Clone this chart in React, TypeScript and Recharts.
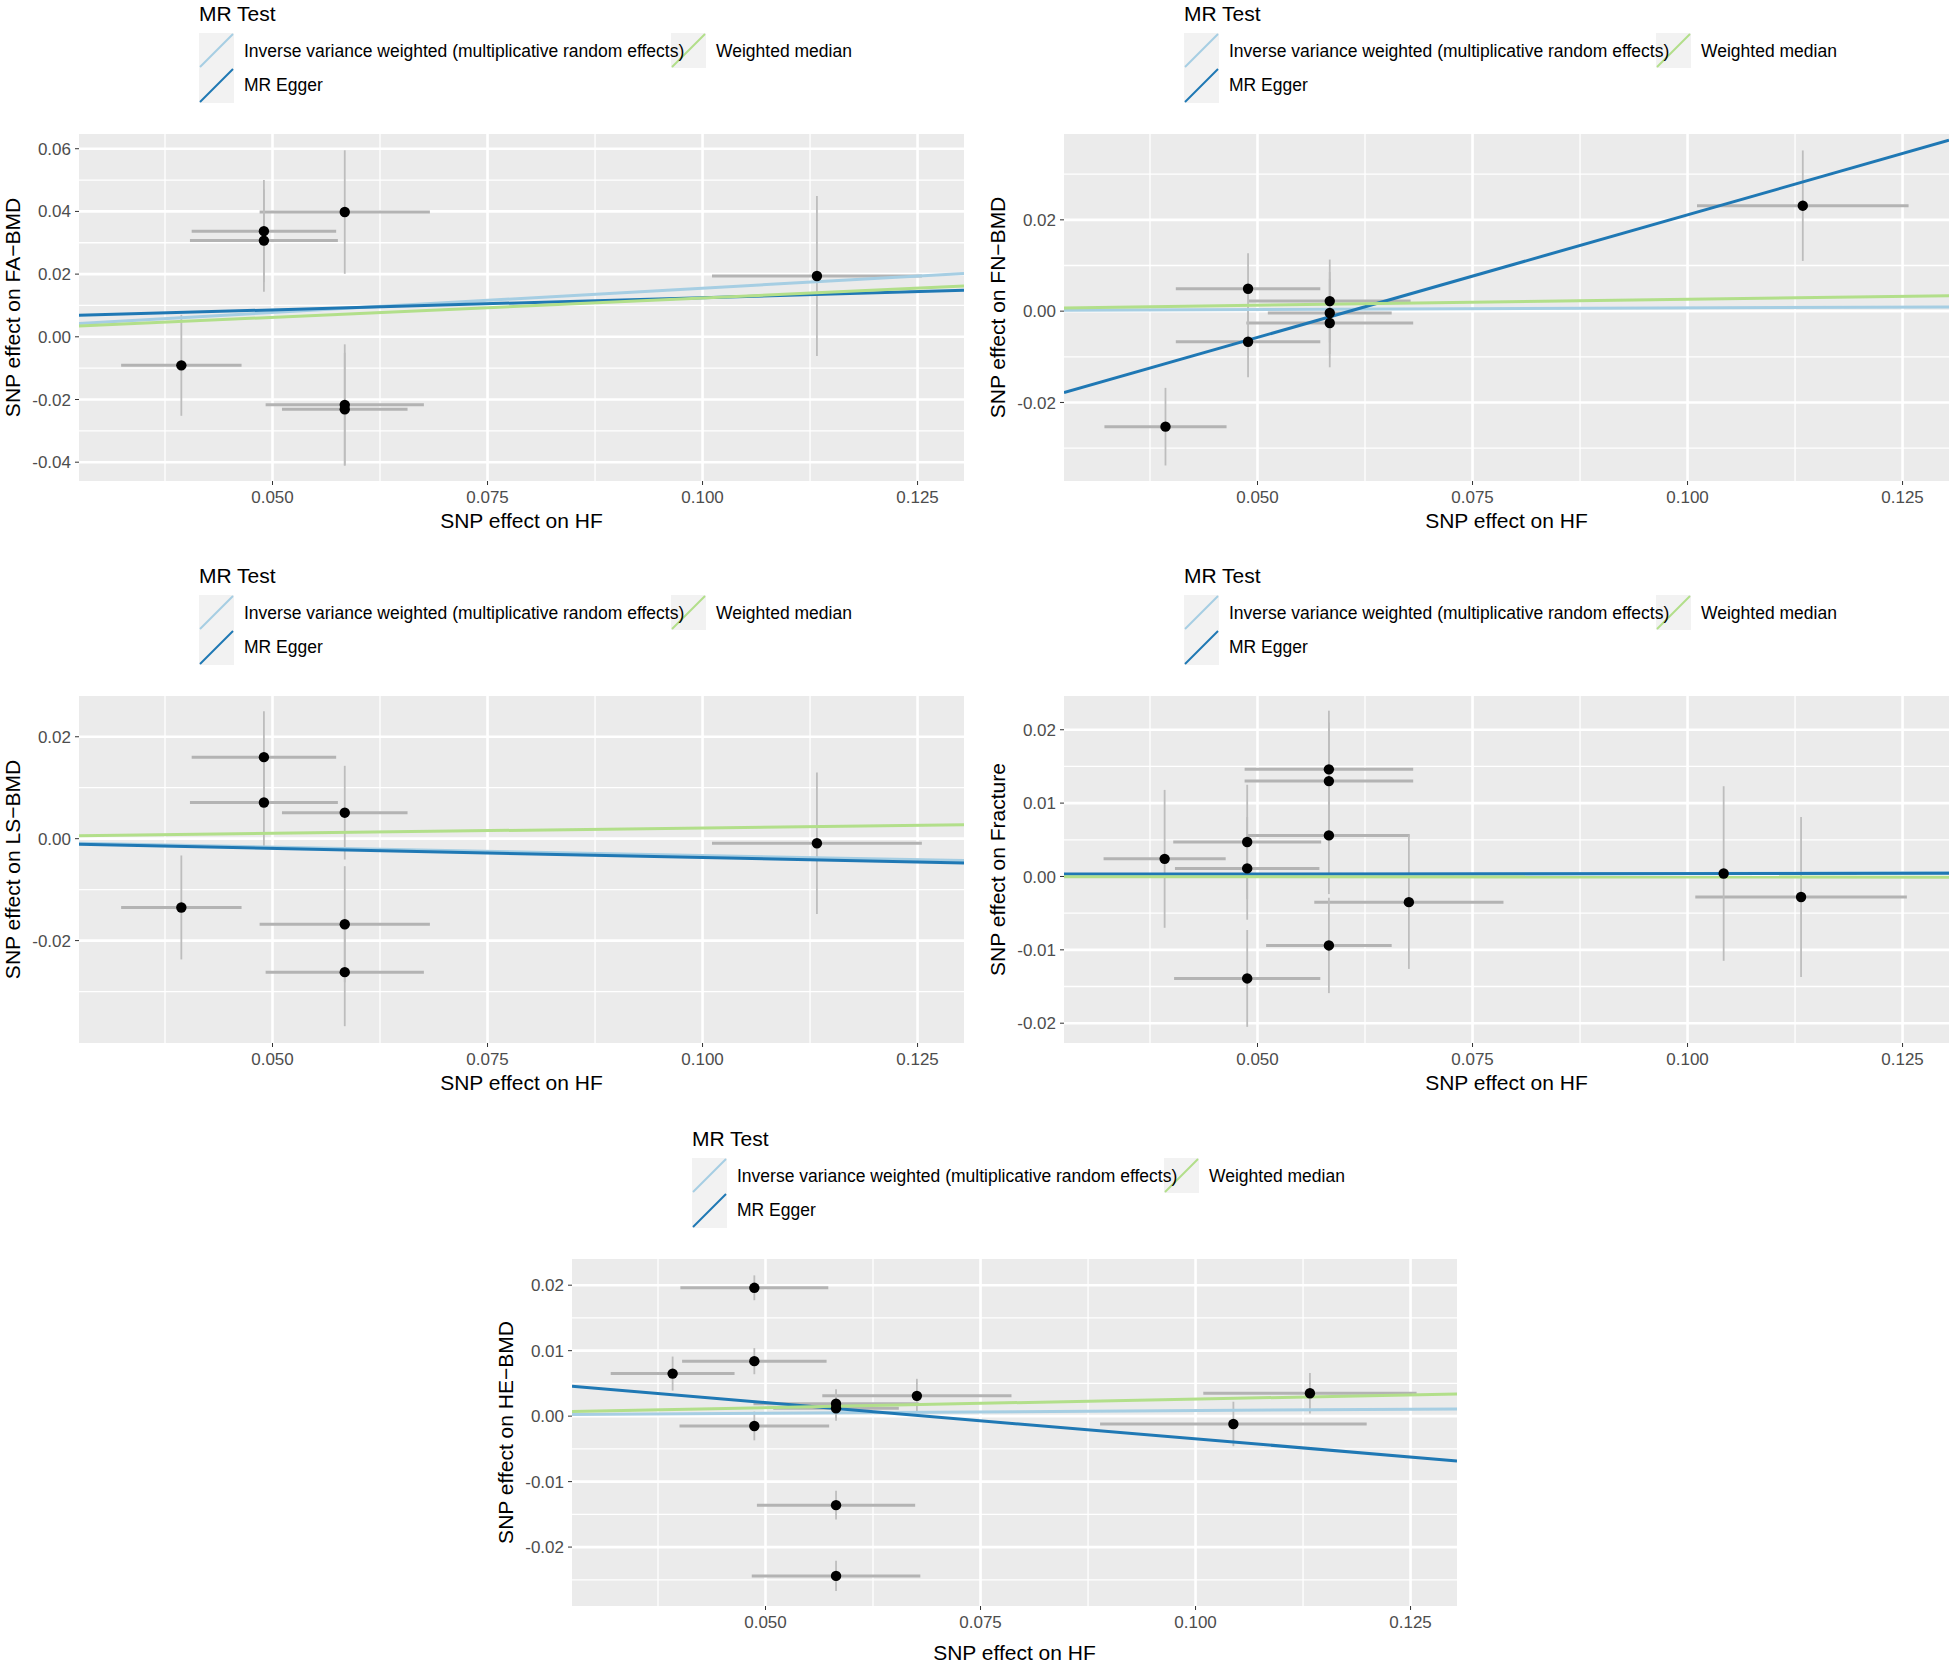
import React from "react"
import {
  ScatterChart,
  Scatter,
  XAxis,
  YAxis,
  CartesianGrid,
  ErrorBar,
  ReferenceLine,
  Label
} from "recharts"

const FONT = '"Liberation Sans", Arial, Helvetica, sans-serif'

const METHODS = [
  "Inverse variance weighted (multiplicative random effects)",
  "MR Egger",
  "Weighted median"
]
const METHOD_COLORS = ["#a6cee3", "#1f78b4", "#b2df8a"]

const X_DOMAIN = [0.0275, 0.1304]
const X_TICKS = [0.05, 0.075, 0.1, 0.125]
const X_MINOR = [0.0375, 0.0625, 0.0875, 0.1125]

// FA-BMD
const faHf = [0.0394, 0.049, 0.049, 0.0584, 0.0584, 0.0584, 0.1133]
const faHfSe = [0.007, 0.0084, 0.0086, 0.0099, 0.0092, 0.0073, 0.0122]
const faBeta = [-0.0091, 0.0337, 0.0307, 0.0398, -0.0217, -0.0231, 0.0194]
const faSe = [0.0161, 0.0163, 0.0163, 0.0197, 0.0193, 0.018, 0.0255]
const faSlope = [0.155, 0.078, 0.124]
const faIntercept = [0, 0.0047, 0]

// FN-BMD
const fnHf = [0.0393, 0.0489, 0.0489, 0.0584, 0.0584, 0.0584, 0.1134]
const fnHfSe = [0.0071, 0.0084, 0.0084, 0.0094, 0.0072, 0.0097, 0.0123]
const fnBeta = [-0.0253, 0.0049, -0.0067, 0.0022, -0.0004, -0.0026, 0.0231]
const fnSe = [0.0085, 0.0078, 0.0078, 0.0091, 0.009, 0.0097, 0.0121]
const fnSlope = [0.007, 0.537, 0.026]
const fnIntercept = [0, -0.0326, 0]

// LS-BMD
const lsHf = [0.0394, 0.049, 0.049, 0.0584, 0.0584, 0.0584, 0.1133]
const lsHfSe = [0.007, 0.0084, 0.0086, 0.0073, 0.0099, 0.0092, 0.0122]
const lsBeta = [-0.0135, 0.016, 0.0071, 0.0051, -0.0168, -0.0262, -0.0009]
const lsSe = [0.0102, 0.009, 0.0088, 0.0092, 0.0114, 0.0106, 0.0139]
const lsSlope = [-0.033, -0.036, 0.021]
const lsIntercept = [0, -0.0001, 0]

// Fracture
const frHf = [0.0392, 0.0488, 0.0488, 0.0488, 0.0583, 0.0583, 0.0583, 0.0583, 0.0676, 0.1042, 0.1132]
const frHfSe = [0.0071, 0.0086, 0.0084, 0.0085, 0.0098, 0.0098, 0.0094, 0.0073, 0.011, 0.0155, 0.0123]
const frBeta = [0.0024, 0.0047, 0.0011, -0.0139, 0.0146, 0.013, 0.0056, -0.0094, -0.0035, 0.0004, -0.0028]
const frSe = [0.0094, 0.0078, 0.007, 0.0066, 0.008, 0.008, 0.008, 0.0065, 0.0091, 0.0119, 0.0109]
const frSlope = [0.004, 0.001, -0.0008]
const frIntercept = [0, 0.0003, 0]

// HE-BMD
const heHf = [0.0487, 0.0487, 0.0392, 0.0487, 0.0582, 0.0582, 0.0676, 0.0582, 0.0582, 0.1044, 0.1133]
const heHfSe = [0.0086, 0.0084, 0.0072, 0.0087, 0.0096, 0.0073, 0.011, 0.0092, 0.0098, 0.0155, 0.0124]
const heBeta = [0.0196, 0.0084, 0.0065, -0.0015, 0.0019, 0.0012, 0.0031, -0.0136, -0.0244, -0.0012, 0.0035]
const heSe = [0.0019, 0.002, 0.0026, 0.0022, 0.0022, 0.0019, 0.0026, 0.0022, 0.0023, 0.0034, 0.0031]
const heSlope = [0.0085, -0.1107, 0.026]
const heIntercept = [0, 0.0076, 0]

const panels = [
  {
    id: "fa", left: 0, top: 0, outcome: "FA\u2212BMD", xTitleDy: 47,
    hf: faHf, hfSe: faHfSe, beta: faBeta, se: faSe, slope: faSlope, intercept: faIntercept,
    yDomain: [-0.046, 0.0647], yTicks: [-0.04, -0.02, 0, 0.02, 0.04, 0.06], yMinor: [-0.03, -0.01, 0.01, 0.03, 0.05]
  },
  {
    id: "fn", left: 985, top: 0, outcome: "FN\u2212BMD", xTitleDy: 47,
    hf: fnHf, hfSe: fnHfSe, beta: fnBeta, se: fnSe, slope: fnSlope, intercept: fnIntercept,
    yDomain: [-0.0372, 0.0388], yTicks: [-0.02, 0, 0.02], yMinor: [-0.03, -0.01, 0.01, 0.03]
  },
  {
    id: "ls", left: 0, top: 562, outcome: "LS\u2212BMD", xTitleDy: 47,
    hf: lsHf, hfSe: lsHfSe, beta: lsBeta, se: lsSe, slope: lsSlope, intercept: lsIntercept,
    yDomain: [-0.0401, 0.028], yTicks: [-0.02, 0, 0.02], yMinor: [-0.03, -0.01, 0.01]
  },
  {
    id: "fr", left: 985, top: 562, outcome: "Fracture", xTitleDy: 47,
    hf: frHf, hfSe: frHfSe, beta: frBeta, se: frSe, slope: frSlope, intercept: frIntercept,
    yDomain: [-0.0227, 0.0246], yTicks: [-0.02, -0.01, 0, 0.01, 0.02], yMinor: [-0.015, -0.005, 0.005, 0.015]
  },
  {
    id: "he", left: 493, top: 1125, outcome: "HE\u2212BMD", xTitleDy: 54,
    hf: heHf, hfSe: heHfSe, beta: heBeta, se: heSe, slope: heSlope, intercept: heIntercept,
    yDomain: [-0.029, 0.024], yTicks: [-0.02, -0.01, 0, 0.01, 0.02], yMinor: [-0.025, -0.015, -0.005, 0.005, 0.015]
  }
]

function KeyBox({ left, top, color }: { left: number; top: number; color: string }) {
  return (
    <svg width={35} height={35} style={{ position: "absolute", left, top }}>
      <rect width={35} height={35} fill="#f2f2f2" />
      <line x1={1} y1={34} x2={34} y2={1} stroke={color} strokeWidth={2} />
    </svg>
  )
}

function MrLegend() {
  const text: React.CSSProperties = {
    position: "absolute",
    fontSize: 17.5,
    lineHeight: "20px",
    whiteSpace: "nowrap",
    color: "#000"
  }
  return (
    <>
      <div style={{ position: "absolute", left: 199, top: 2, fontSize: 21, lineHeight: "24px", color: "#000" }}>
        MR Test
      </div>
      <KeyBox left={199} top={33} color={METHOD_COLORS[0]} />
      <KeyBox left={199} top={68} color={METHOD_COLORS[1]} />
      <KeyBox left={671} top={33} color={METHOD_COLORS[2]} />
      <div style={{ ...text, left: 244, top: 41 }}>{METHODS[0]}</div>
      <div style={{ ...text, left: 244, top: 75 }}>{METHODS[1]}</div>
      <div style={{ ...text, left: 716, top: 41 }}>{METHODS[2]}</div>
    </>
  )
}

function MrPanel({ p }: { p: (typeof panels)[number] }) {
  const data = p.hf.map((x, i) => ({ x, y: p.beta[i], xErr: p.hfSe[i], yErr: p.se[i] }))
  const tickStyle = { fill: "#4d4d4d", fontSize: 17, fontFamily: FONT }

  return (
    <div style={{ position: "absolute", left: p.left, top: p.top, width: 974, height: 545 }}>
      <MrLegend />
      <div style={{ position: "absolute", left: 0, top: 110 }}>
        <ScatterChart width={974} height={436} margin={{ top: 24, right: 10, left: 0, bottom: 0 }}>
          <CartesianGrid
            fill="#ebebeb"
            stroke="#ffffff"
            strokeWidth={1.3}
            horizontalValues={p.yMinor}
            verticalValues={X_MINOR}
          />
          <CartesianGrid
            stroke="#ffffff"
            strokeWidth={2.6}
            horizontalValues={p.yTicks}
            verticalValues={X_TICKS}
          />
          <XAxis
            type="number"
            dataKey="x"
            domain={X_DOMAIN}
            ticks={X_TICKS}
            allowDataOverflow
            tickFormatter={(v: number) => v.toFixed(3)}
            axisLine={false}
            tickLine={{ stroke: "#333333" }}
            tickSize={4}
            tickMargin={6}
            height={65}
            tick={tickStyle}
          >
            <Label
              content={({ viewBox }: any) => (
                <text
                  x={viewBox.x + viewBox.width / 2}
                  y={viewBox.y + p.xTitleDy}
                  textAnchor="middle"
                  fontSize={21}
                  fontFamily={FONT}
                  fill="#000"
                >
                  SNP effect on HF
                </text>
              )}
            />
          </XAxis>
          <YAxis
            type="number"
            dataKey="y"
            domain={p.yDomain}
            ticks={p.yTicks}
            allowDataOverflow
            tickFormatter={(v: number) => v.toFixed(2)}
            axisLine={false}
            tickLine={{ stroke: "#333333" }}
            tickSize={4}
            tickMargin={4}
            width={79}
            tick={tickStyle}
          >
            <Label
              content={({ viewBox }: any) => {
                const cx = viewBox.x + 12
                const cy = viewBox.y + viewBox.height / 2
                return (
                  <text
                    x={cx}
                    y={cy}
                    transform={`rotate(-90 ${cx} ${cy})`}
                    textAnchor="middle"
                    dominantBaseline="central"
                    fontSize={21}
                    fontFamily={FONT}
                    fill="#000"
                  >
                    {`SNP effect on ${p.outcome}`}
                  </text>
                )
              }}
            />
          </YAxis>
          <Scatter
            data={data}
            isAnimationActive={false}
            shape={(s: any) => <circle cx={s.cx} cy={s.cy} r={5.2} fill="#000000" />}
          >
            <ErrorBar dataKey="xErr" direction="x" width={0} stroke="#b3b3b3" strokeWidth={3} isAnimationActive={false} />
            <ErrorBar dataKey="yErr" direction="y" width={0} stroke="#bdbdbd" strokeWidth={1.8} isAnimationActive={false} />
          </Scatter>
          {METHODS.map((m, k) => (
            <ReferenceLine
              key={m}
              ifOverflow="hidden"
              stroke={METHOD_COLORS[k]}
              strokeWidth={3}
              segment={[
                { x: X_DOMAIN[0], y: p.intercept[k] + p.slope[k] * X_DOMAIN[0] },
                { x: X_DOMAIN[1], y: p.intercept[k] + p.slope[k] * X_DOMAIN[1] }
              ]}
            />
          ))}
        </ScatterChart>
      </div>
    </div>
  )
}

export default function App() {
  return (
    <div
      style={{
        position: "absolute",
        left: 0,
        top: 0,
        width: 1959,
        height: 1666,
        background: "#ffffff",
        fontFamily: FONT,
        overflow: "hidden"
      }}
    >
      {panels.map((p) => (
        <MrPanel key={p.id} p={p} />
      ))}
    </div>
  )
}
